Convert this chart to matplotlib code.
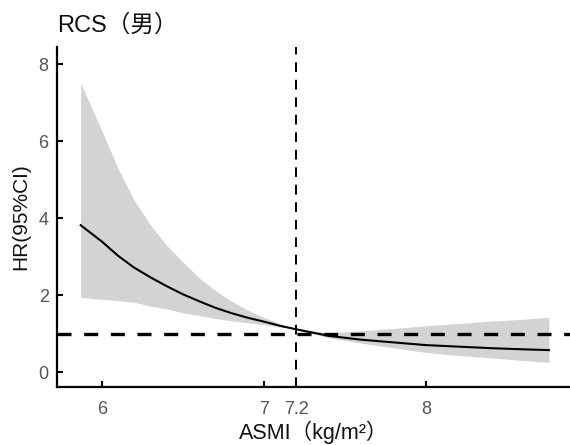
import matplotlib
matplotlib.use("Agg")
import matplotlib.pyplot as plt
import numpy as np

plt.rcParams['font.family'] = ['Liberation Sans', 'Noto Sans CJK SC', 'DejaVu Sans']

# Data
asmi = [5.87, 6.0, 6.1, 6.2, 6.3, 6.4, 6.5, 6.6, 6.7, 6.8, 6.9, 7.0, 7.1, 7.2,
        7.4, 7.6, 7.8, 8.0, 8.2, 8.4, 8.6, 8.76]
hr = [3.82, 3.40, 3.03, 2.72, 2.47, 2.24, 2.03, 1.85, 1.68, 1.54, 1.42, 1.32, 1.21, 1.12,
      0.95, 0.85, 0.78, 0.71, 0.67, 0.63, 0.60, 0.58]
hr_upper = [7.51, 6.28, 5.30, 4.47, 3.83, 3.30, 2.87, 2.46, 2.13, 1.85, 1.62, 1.43, 1.26, 1.12,
            1.03, 1.08, 1.14, 1.21, 1.27, 1.33, 1.38, 1.43]
hr_lower = [1.95, 1.90, 1.86, 1.82, 1.72, 1.65, 1.55, 1.48, 1.40, 1.34, 1.29, 1.24, 1.18, 1.12,
            0.90, 0.76, 0.64, 0.52, 0.44, 0.38, 0.31, 0.26]
ref_hr = 1.0
ref_x = 7.2
xticks = [6, 7, 7.2, 8]
xticklabels = ['6', '7', '7.2', '8']
yticks = [0, 2, 4, 6, 8]

fig = plt.figure(figsize=(5.7, 4.45), dpi=100)
ax = fig.add_axes([0.1, 0.131, 0.9, 0.763])

ax.fill_between(asmi, hr_lower, hr_upper, color='#d3d3d3', linewidth=0, zorder=1)
ax.plot(asmi, hr, color='black', linewidth=1.5, zorder=3)
ax.axhline(ref_hr, color='black', linewidth=2.4, dashes=(4.2, 3.8), zorder=4)
ax.axvline(ref_x, color='black', linewidth=1.4, dashes=(5, 4), zorder=4)

ax.set_xlim(5.724, 8.89)
ax.set_ylim(-0.37, 8.44)
ax.set_xticks(xticks)
ax.set_xticklabels(xticklabels)
ax.set_yticks(yticks)

for s in ['top', 'right']:
    ax.spines[s].set_visible(False)
for s in ['left', 'bottom']:
    ax.spines[s].set_linewidth(1.6)
    ax.spines[s].set_color('black')

ax.tick_params(axis='both', direction='in', length=4, width=1.5, color='black',
               labelsize=13, labelcolor='#555555')
ax.tick_params(axis='x', pad=10)
ax.tick_params(axis='y', pad=6)

ax.set_xlabel('ASMI（kg/m²）', fontsize=15.5, color='#111111', labelpad=2)
ax.set_ylabel('HR(95%CI)', fontsize=15, color='#111111', labelpad=6)

fig.text(0.1, (445 - 32) / 445, 'RCS（男）', fontsize=17, color='#111111',
         ha='left', va='baseline')

fig.savefig('out.png', dpi=100)
